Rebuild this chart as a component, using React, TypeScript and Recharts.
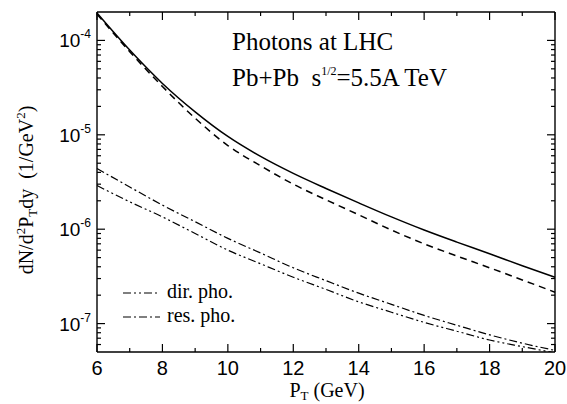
import { LineChart, Line, XAxis, YAxis, Legend } from 'recharts'

// P_T (GeV)
const pt = [6, 7, 8, 9, 10, 11, 12, 13, 14, 15, 16, 17, 18, 19, 20]
// solid curve
const totalYield = [1.95e-4, 7.9e-5, 3.5e-5, 1.75e-5, 9.6e-6, 5.9e-6, 3.9e-6, 2.7e-6, 1.9e-6, 1.35e-6, 9.8e-7, 7.3e-7, 5.5e-7, 4.1e-7, 3.1e-7]
// dashed curve
const dashedYield = [1.9e-4, 7.6e-5, 3.25e-5, 1.5e-5, 7.7e-6, 4.7e-6, 3.0e-6, 2.05e-6, 1.42e-6, 9.8e-7, 7.0e-7, 5.2e-7, 3.9e-7, 2.9e-7, 2.15e-7]
const resPho = [4.4e-6, 2.8e-6, 1.8e-6, 1.2e-6, 8.0e-7, 5.6e-7, 3.9e-7, 2.85e-7, 2.1e-7, 1.6e-7, 1.22e-7, 9.6e-8, 7.6e-8, 6.2e-8, 5.2e-8]
const dirPho = [2.9e-6, 1.95e-6, 1.35e-6, 9.0e-7, 6.0e-7, 4.3e-7, 3.1e-7, 2.3e-7, 1.7e-7, 1.32e-7, 1.03e-7, 8.3e-8, 6.7e-8, 5.7e-8, 4.9e-8]

const xTicks = [6, 7, 8, 9, 10, 11, 12, 13, 14, 15, 16, 17, 18, 19, 20]
const yMajorTicks = [1e-7, 1e-6, 1e-5, 1e-4]
const yDomain = [5e-8, 2e-4]

const data = pt.map((x, i) => ({
  pt: x,
  total: totalYield[i],
  dashed: dashedYield[i],
  res: resPho[i],
  dir: dirPho[i],
}))

// minor ticks 2..9 within each decade, plus the bit below the lowest major
const yTicks: number[] = []
for (const d of [1e-8, ...yMajorTicks]) {
  for (let m = 1; m <= 9; m++) {
    const v = Number((m * d).toPrecision(3))
    if (v > yDomain[0] && v < yDomain[1]) yTicks.push(v)
  }
}

const SANS = '"Liberation Sans", Arial, sans-serif'
const SERIF = '"Liberation Serif", "Times New Roman", serif'
const DIR_DASH = '8 3 2 3 2 3'
const RES_DASH = '8 3 2 3'

const isMajorY = (v: number) => {
  const l = Math.log10(v)
  return Math.abs(l - Math.round(l)) < 1e-6
}

const BottomTick = ({ x, y, payload }: any) => {
  const major = payload.value % 2 === 0
  return (
    <g>
      <line x1={x} y1={y} x2={x} y2={y - (major ? 8 : 4)} stroke="#000" strokeWidth={1.2} />
      {major && (
        <text x={x} y={y + 23} textAnchor="middle" fontSize={20} fontFamily={SANS} fill="#000">
          {payload.value}
        </text>
      )}
    </g>
  )
}

const TopTick = ({ x, y, payload }: any) => {
  const major = payload.value % 2 === 0
  return <line x1={x} y1={y} x2={x} y2={y + (major ? 8 : 4)} stroke="#000" strokeWidth={1.2} />
}

const LeftTick = ({ x, y, payload }: any) => {
  const v = payload.value
  const major = isMajorY(v)
  return (
    <g>
      <line x1={x} y1={y} x2={x + (major ? 8 : 4)} y2={y} stroke="#000" strokeWidth={1.2} />
      {major && (
        <text x={x - 6} y={y + 7} textAnchor="end" fontSize={19} fontFamily={SANS} fill="#000">
          10
          <tspan dy={-9} fontSize={12}>
            {Math.round(Math.log10(v))}
          </tspan>
        </text>
      )}
    </g>
  )
}

const RightTick = ({ x, y, payload }: any) => {
  const major = isMajorY(payload.value)
  return <line x1={x} y1={y} x2={x - (major ? 8 : 4)} y2={y} stroke="#000" strokeWidth={1.2} />
}

const YTitle = () => (
  <text
    x={33}
    y={190}
    transform="rotate(-90, 33, 190)"
    textAnchor="middle"
    fontSize={20}
    fontFamily={SERIF}
    fill="#000"
  >
    dN/d
    <tspan dy={-8} fontSize={13}>2</tspan>
    <tspan dy={8}>P</tspan>
    <tspan dy={4} fontSize={13}>T</tspan>
    <tspan dy={-4}>{'dy\u00a0\u00a0(1/GeV'}</tspan>
    <tspan dy={-8} fontSize={13}>2</tspan>
    <tspan dy={8}>)</tspan>
  </text>
)

const XTitle = () => (
  <text x={327} y={397} textAnchor="middle" fontSize={20} fontFamily={SERIF} fill="#000">
    P
    <tspan dy={3} fontSize={13}>T</tspan>
    <tspan dy={-3}>{'\u00a0(GeV)'}</tspan>
  </text>
)

const LegendBox = () => (
  <svg width={140} height={52}>
    <line x1={0} y1={12} x2={37} y2={12} stroke="#000" strokeWidth={1.2} strokeDasharray={DIR_DASH} />
    <text x={44} y={17} fontSize={20} fontFamily={SERIF} fill="#000">dir. pho.</text>
    <line x1={0} y1={36} x2={37} y2={36} stroke="#000" strokeWidth={1.2} strokeDasharray={RES_DASH} />
    <text x={44} y={41} fontSize={20} fontFamily={SERIF} fill="#000">res. pho.</text>
  </svg>
)

export default function App() {
  return (
    <div style={{ position: 'absolute', left: 0, top: 0, width: 567, height: 404, background: '#fff' }}>
      <LineChart width={567} height={404} data={data} margin={{ top: 11, right: 11, left: 0, bottom: 0 }}>
        <XAxis
          dataKey="pt"
          type="number"
          domain={[6, 20]}
          ticks={xTicks}
          interval={0}
          height={52}
          tickSize={0}
          tickMargin={0}
          tickLine={false}
          axisLine={{ stroke: '#000', strokeWidth: 1.4 }}
          tick={<BottomTick />}
          label={<XTitle />}
        />
        <XAxis
          xAxisId="top"
          dataKey="pt"
          orientation="top"
          type="number"
          domain={[6, 20]}
          ticks={xTicks}
          interval={0}
          height={1}
          tickSize={0}
          tickMargin={0}
          tickLine={false}
          axisLine={{ stroke: '#000', strokeWidth: 1.4 }}
          tick={<TopTick />}
        />
        <YAxis
          type="number"
          scale="log"
          domain={yDomain}
          allowDataOverflow
          ticks={yTicks}
          interval={0}
          width={97}
          tickSize={0}
          tickMargin={0}
          tickLine={false}
          axisLine={{ stroke: '#000', strokeWidth: 1.4 }}
          tick={<LeftTick />}
          label={<YTitle />}
        />
        <YAxis
          yAxisId="right"
          orientation="right"
          type="number"
          scale="log"
          domain={yDomain}
          allowDataOverflow
          ticks={yTicks}
          interval={0}
          width={1}
          tickSize={0}
          tickMargin={0}
          tickLine={false}
          axisLine={{ stroke: '#000', strokeWidth: 1.4 }}
          tick={<RightTick />}
        />
        <Legend
          layout="horizontal"
          align="center"
          verticalAlign="middle"
          content={<LegendBox />}
          wrapperStyle={{ position: 'absolute', left: 123, top: 281, width: 140, height: 52 }}
        />
        <Line dataKey="total" type="monotone" stroke="#000" strokeWidth={1.5} dot={false} isAnimationActive={false} legendType="none" />
        <Line xAxisId="top" yAxisId="right" dataKey="dashed" type="monotone" stroke="#000" strokeWidth={1.5} strokeDasharray="7 5" dot={false} isAnimationActive={false} legendType="none" />
        <Line dataKey="res" type="monotone" stroke="#000" strokeWidth={1.2} strokeDasharray={RES_DASH} dot={false} isAnimationActive={false} legendType="none" />
        <Line dataKey="dir" type="monotone" stroke="#000" strokeWidth={1.2} strokeDasharray={DIR_DASH} dot={false} isAnimationActive={false} legendType="none" />
      </LineChart>
      <svg
        width={567}
        height={404}
        style={{ position: 'absolute', left: 0, top: 0, pointerEvents: 'none' }}
      >
        <text x={232} y={50} fontSize={25} fontFamily={SERIF} fill="#000">
          Photons at LHC
        </text>
        <text x={232} y={86} fontSize={25} fontFamily={SERIF} fill="#000">
          {'Pb+Pb\u00a0\u00a0s'}
          <tspan dy={-11} fontSize={12}>1/2</tspan>
          <tspan dy={11}>=5.5A TeV</tspan>
        </text>
      </svg>
    </div>
  )
}
